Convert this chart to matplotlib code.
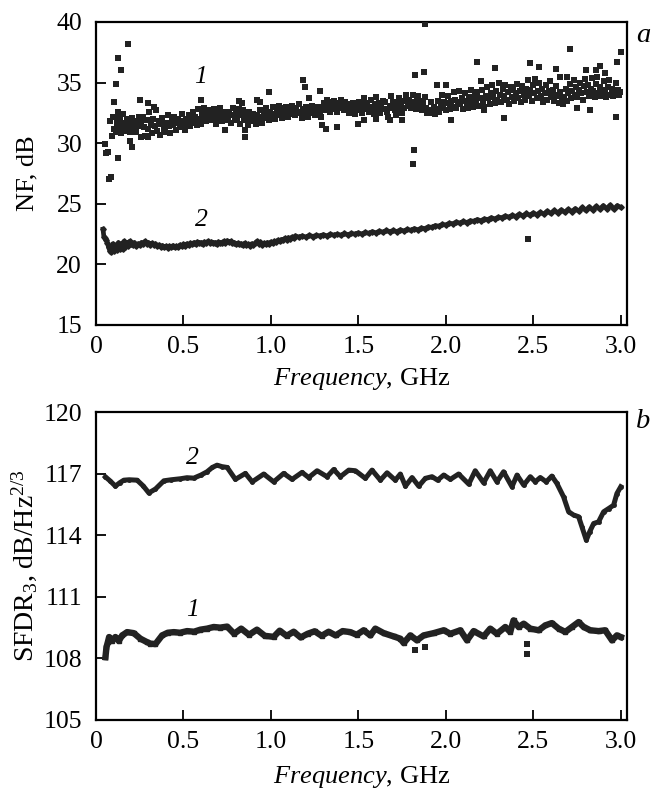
import matplotlib
matplotlib.use('Agg')
import matplotlib.pyplot as plt

plt.rcParams['font.family'] = ['Liberation Serif', 'DejaVu Serif']
plt.rcParams['mathtext.fontset'] = 'custom'
plt.rcParams['mathtext.rm'] = 'Liberation Serif'
plt.rcParams['mathtext.it'] = 'Liberation Serif:italic'

# (a) NF, curve 1 - scattered squares (frequency GHz, NF dB)
nf1_pts = [
    # outliers / left cluster
    (0.054, 29.9), (0.060, 29.2), (0.070, 29.25), (0.072, 27.05), (0.086, 27.2),
    (0.080, 31.8), (0.092, 30.6), (0.104, 33.4), (0.115, 34.9), (0.118, 32.1),
    (0.125, 28.75), (0.127, 37.05), (0.142, 36.04), (0.184, 38.16), (0.195, 30.2),
    (0.205, 29.7), (0.249, 33.56), (0.300, 33.3), (0.330, 32.96), (0.285, 30.6),
    (0.295, 30.5), (0.600, 33.6), (0.740, 31.1), (0.815, 33.5), (0.835, 33.3),
    (0.920, 33.6), (0.940, 33.4), (0.850, 31.1), (0.852, 30.5), (0.990, 34.2),
    (1.184, 35.2), (1.193, 34.66), (1.280, 34.33), (1.220, 33.7), (1.290, 31.5),
    (1.315, 31.2), (1.380, 31.36), (1.500, 31.6), (1.530, 31.9), (1.600, 32.0),
    (1.680, 31.9), (1.750, 31.9), (2.030, 31.95), (1.826, 35.6), (1.873, 35.9),
    (1.816, 29.4), (1.810, 28.3), (1.880, 39.8), (1.950, 34.8), (2.000, 34.8),
    (2.180, 36.7), (2.200, 35.1), (2.280, 36.2), (2.330, 32.1), (2.220, 32.7),
    (2.467, 22.07), (2.480, 36.6), (2.530, 36.3), (2.630, 36.1), (2.650, 35.5),
    (2.710, 37.8), (2.750, 32.9), (2.826, 32.7), (2.860, 36.0), (2.880, 36.4),
    (2.910, 35.8), (2.980, 36.7), (3.000, 37.5), (2.974, 32.2), (2.690, 35.5),
    (2.800, 36.0),
    # main band
    (0.100, 32.2), (0.105, 31.2), (0.112, 30.9), (0.118, 31.6), (0.125, 32.6),
    (0.130, 31.3), (0.138, 31.9), (0.142, 30.8), (0.150, 31.4), (0.155, 32.4),
    (0.162, 31.0), (0.168, 31.7), (0.175, 31.2), (0.180, 32.0), (0.188, 31.5),
    (0.195, 30.9), (0.200, 31.3), (0.205, 32.1), (0.212, 31.6), (0.220, 31.1),
    (0.228, 30.9), (0.235, 31.8), (0.240, 31.4), (0.248, 32.2), (0.255, 30.5),
    (0.260, 31.7), (0.268, 32.2), (0.275, 31.3), (0.282, 30.6), (0.290, 31.9),
    (0.298, 31.2), (0.305, 32.6), (0.312, 31.5), (0.320, 30.8), (0.328, 32.0),
    (0.335, 31.4), (0.342, 32.7), (0.350, 31.0), (0.358, 31.8), (0.365, 30.7),
    (0.372, 31.6), (0.380, 32.1), (0.388, 31.2), (0.395, 30.9), (0.402, 31.7),
    (0.410, 32.3), (0.418, 31.4), (0.425, 30.8), (0.432, 31.9), (0.440, 31.5),
    (0.448, 32.2), (0.455, 31.1), (0.462, 31.7), (0.470, 32.0), (0.478, 31.3),
    (0.485, 31.8), (0.492, 32.4), (0.500, 31.5), (0.508, 31.1), (0.515, 32.0),
    (0.522, 31.6), (0.530, 32.3), (0.538, 31.4), (0.545, 31.9), (0.552, 32.6),
    (0.560, 31.7), (0.568, 32.2), (0.575, 31.5), (0.582, 32.8), (0.590, 32.0),
    (0.598, 31.6), (0.605, 32.5), (0.612, 32.1), (0.620, 32.9), (0.628, 31.8),
    (0.635, 32.4), (0.642, 32.0), (0.650, 32.7), (0.658, 31.9), (0.665, 32.3),
    (0.672, 32.8), (0.680, 32.1), (0.688, 31.6), (0.695, 32.5), (0.702, 32.0),
    (0.710, 32.9), (0.718, 31.8), (0.725, 32.3), (0.732, 32.6), (0.740, 31.9),
    (0.748, 32.4), (0.755, 32.0), (0.762, 32.6), (0.770, 31.7), (0.778, 32.3),
    (0.785, 32.9), (0.792, 31.9), (0.800, 32.4), (0.808, 32.1), (0.815, 32.8),
    (0.822, 31.6), (0.830, 32.3), (0.838, 32.7), (0.845, 31.9), (0.852, 32.5),
    (0.860, 32.0), (0.868, 31.5), (0.875, 32.6), (0.882, 32.2), (0.890, 31.8),
    (0.898, 32.4), (0.905, 32.0), (0.912, 31.6), (0.920, 32.3), (0.928, 31.9),
    (0.935, 32.7), (0.942, 32.2), (0.950, 31.7), (0.958, 32.5), (0.965, 32.1),
    (0.972, 32.9), (0.980, 32.3), (0.988, 31.9), (0.995, 32.6), (1.002, 32.2),
    (1.010, 33.0), (1.018, 32.4), (1.025, 32.0), (1.032, 32.8), (1.040, 32.3),
    (1.048, 33.1), (1.055, 32.5), (1.062, 32.1), (1.070, 32.9), (1.078, 32.4),
    (1.085, 33.0), (1.092, 32.6), (1.100, 32.2), (1.108, 32.8), (1.115, 32.4),
    (1.122, 33.1), (1.130, 32.7), (1.138, 32.3), (1.145, 32.9), (1.152, 32.5),
    (1.160, 33.2), (1.168, 32.6), (1.175, 32.1), (1.182, 32.8), (1.190, 32.4),
    (1.198, 33.0), (1.205, 32.6), (1.212, 32.2), (1.220, 32.9), (1.228, 32.5),
    (1.235, 33.1), (1.242, 32.7), (1.250, 32.3), (1.258, 32.8), (1.265, 32.4),
    (1.272, 33.0), (1.280, 32.6), (1.288, 32.2), (1.295, 32.9), (1.302, 33.3),
    (1.310, 32.7), (1.318, 33.6), (1.325, 32.9), (1.332, 33.4), (1.340, 32.6),
    (1.348, 33.2), (1.355, 32.8), (1.362, 33.5), (1.370, 33.0), (1.378, 32.6),
    (1.385, 33.3), (1.392, 32.9), (1.400, 33.6), (1.408, 33.1), (1.415, 32.7),
    (1.422, 33.4), (1.430, 32.8), (1.438, 33.2), (1.445, 32.5), (1.452, 33.0),
    (1.460, 32.6), (1.468, 33.3), (1.475, 32.9), (1.482, 32.4), (1.490, 33.1),
    (1.498, 32.7), (1.505, 33.4), (1.512, 32.9), (1.520, 32.5), (1.528, 33.2),
    (1.535, 33.7), (1.542, 32.8), (1.550, 33.3), (1.558, 32.6), (1.565, 33.0),
    (1.572, 33.6), (1.580, 32.9), (1.588, 32.4), (1.595, 33.2), (1.602, 33.8),
    (1.610, 32.7), (1.618, 33.3), (1.625, 32.5), (1.632, 33.0), (1.640, 33.5),
    (1.648, 32.8), (1.655, 33.4), (1.662, 32.6), (1.670, 32.2), (1.678, 33.1),
    (1.685, 33.9), (1.692, 32.9), (1.700, 33.4), (1.708, 32.7), (1.715, 32.3),
    (1.722, 33.2), (1.730, 33.7), (1.738, 32.8), (1.745, 33.3), (1.752, 32.5),
    (1.760, 32.9), (1.768, 33.5), (1.775, 34.0), (1.782, 33.1), (1.790, 33.6),
    (1.798, 32.9), (1.805, 33.4), (1.812, 34.0), (1.820, 33.2), (1.828, 32.8),
    (1.835, 33.6), (1.842, 33.9), (1.850, 33.1), (1.858, 33.5), (1.865, 32.7),
    (1.872, 33.3), (1.880, 33.8), (1.888, 32.9), (1.895, 32.5), (1.902, 32.7),
    (1.910, 32.5), (1.918, 33.4), (1.925, 32.6), (1.932, 33.0), (1.940, 32.4),
    (1.948, 32.8), (1.955, 33.5), (1.962, 32.6), (1.970, 33.2), (1.978, 34.0),
    (1.985, 32.9), (1.992, 33.4), (2.000, 32.7), (2.008, 33.3), (2.015, 33.9),
    (2.022, 32.8), (2.030, 33.5), (2.038, 33.0), (2.045, 34.2), (2.052, 33.6),
    (2.060, 32.9), (2.068, 33.4), (2.075, 34.3), (2.082, 33.2), (2.090, 33.7),
    (2.098, 32.8), (2.105, 33.5), (2.112, 34.1), (2.120, 33.3), (2.128, 32.9),
    (2.135, 33.8), (2.142, 34.4), (2.150, 33.4), (2.158, 33.0), (2.165, 33.9),
    (2.172, 33.5), (2.180, 34.2), (2.188, 33.1), (2.195, 33.7), (2.205, 34.4),
    (2.212, 33.5), (2.220, 33.0), (2.228, 33.9), (2.235, 34.6), (2.242, 33.7),
    (2.250, 33.2), (2.258, 34.1), (2.265, 34.8), (2.272, 33.8), (2.280, 33.3),
    (2.288, 34.3), (2.295, 33.6), (2.302, 35.0), (2.310, 34.0), (2.318, 33.4),
    (2.325, 34.5), (2.332, 33.9), (2.340, 34.8), (2.348, 33.6), (2.355, 34.2),
    (2.362, 33.2), (2.370, 34.6), (2.378, 33.8), (2.385, 34.4), (2.392, 33.5),
    (2.400, 34.1), (2.408, 34.9), (2.415, 33.7), (2.422, 34.3), (2.430, 33.4),
    (2.438, 34.7), (2.445, 34.0), (2.452, 33.6), (2.460, 34.5), (2.468, 35.2),
    (2.475, 33.9), (2.482, 34.4), (2.490, 33.5), (2.498, 34.8), (2.505, 34.1),
    (2.512, 35.3), (2.520, 33.7), (2.528, 34.3), (2.535, 35.0), (2.542, 33.9),
    (2.550, 34.5), (2.558, 33.4), (2.565, 34.1), (2.572, 34.8), (2.580, 33.6),
    (2.588, 34.3), (2.595, 35.1), (2.602, 33.8), (2.610, 34.4), (2.618, 33.5),
    (2.625, 34.0), (2.632, 34.7), (2.640, 33.9), (2.648, 33.3), (2.655, 34.2),
    (2.662, 33.6), (2.670, 33.2), (2.678, 33.8), (2.685, 34.5), (2.692, 33.5),
    (2.700, 34.1), (2.708, 34.9), (2.715, 33.7), (2.722, 34.3), (2.730, 35.2),
    (2.738, 34.0), (2.745, 34.6), (2.752, 33.8), (2.760, 34.4), (2.768, 35.0),
    (2.775, 34.1), (2.782, 33.6), (2.790, 34.7), (2.798, 35.3), (2.805, 34.2),
    (2.812, 34.8), (2.820, 33.9), (2.828, 34.5), (2.835, 35.4), (2.842, 34.3),
    (2.850, 33.8), (2.858, 34.9), (2.865, 35.5), (2.872, 34.1), (2.880, 34.6),
    (2.888, 33.9), (2.895, 34.4), (2.902, 35.1), (2.910, 34.2), (2.918, 33.8),
    (2.925, 34.6), (2.932, 35.2), (2.940, 34.0), (2.948, 34.5), (2.955, 33.9),
    (2.962, 34.3), (2.970, 35.0), (2.978, 34.1), (2.985, 34.4), (2.992, 34.0),
    (2.998, 34.2),
]

# (a) NF, curve 2 - dense small diamonds
nf2_pts = [
    (0.040, 22.9), (0.045, 22.3), (0.050, 22.2), (0.058, 22.0), (0.065, 21.8),
    (0.072, 21.4), (0.080, 21.1), (0.088, 21.0), (0.096, 21.7), (0.104, 21.1),
    (0.112, 21.6), (0.120, 21.2), (0.128, 21.8), (0.136, 21.3), (0.144, 21.7),
    (0.152, 21.3), (0.160, 21.9), (0.168, 21.4), (0.176, 21.8), (0.184, 21.5),
    (0.192, 21.9), (0.200, 21.7), (0.210, 21.6), (0.220, 21.8), (0.230, 21.5),
    (0.240, 21.7), (0.250, 21.6), (0.260, 21.8), (0.270, 21.7), (0.280, 21.9),
    (0.290, 21.7), (0.300, 21.8), (0.310, 21.6), (0.320, 21.75), (0.330, 21.6),
    (0.340, 21.7), (0.350, 21.55), (0.360, 21.6), (0.370, 21.45), (0.380, 21.55),
    (0.390, 21.4), (0.400, 21.5), (0.410, 21.35), (0.420, 21.5), (0.430, 21.4),
    (0.440, 21.55), (0.450, 21.4), (0.460, 21.5), (0.470, 21.45), (0.480, 21.6),
    (0.490, 21.5), (0.500, 21.65), (0.510, 21.55), (0.520, 21.7), (0.530, 21.6),
    (0.540, 21.75), (0.550, 21.65), (0.560, 21.8), (0.570, 21.7), (0.580, 21.85),
    (0.590, 21.75), (0.600, 21.8), (0.610, 21.7), (0.620, 21.85), (0.630, 21.75),
    (0.640, 21.9), (0.650, 21.8), (0.660, 21.85), (0.670, 21.75), (0.680, 21.8),
    (0.690, 21.7), (0.700, 21.85), (0.710, 21.75), (0.720, 21.8), (0.730, 21.9),
    (0.740, 21.8), (0.750, 21.95), (0.760, 21.85), (0.770, 21.9), (0.780, 21.75),
    (0.790, 21.8), (0.800, 21.7), (0.810, 21.75), (0.820, 21.65), (0.830, 21.7),
    (0.840, 21.6), (0.850, 21.75), (0.860, 21.6), (0.870, 21.65), (0.880, 21.55),
    (0.890, 21.7), (0.900, 21.6), (0.910, 21.75), (0.920, 21.9), (0.930, 21.7),
    (0.940, 21.85), (0.950, 21.6), (0.960, 21.75), (0.970, 21.65), (0.980, 21.8),
    (0.990, 21.7), (1.000, 21.85), (1.010, 21.75), (1.020, 21.9), (1.030, 21.85),
    (1.040, 22.0), (1.050, 21.9), (1.060, 22.05), (1.070, 22.0), (1.080, 22.15),
    (1.090, 22.05), (1.100, 22.2), (1.110, 22.1), (1.120, 22.25), (1.130, 22.2),
    (1.140, 22.35), (1.160, 22.25), (1.180, 22.35), (1.200, 22.25), (1.220, 22.4),
    (1.240, 22.3), (1.260, 22.4), (1.280, 22.35), (1.300, 22.45), (1.320, 22.35),
    (1.340, 22.5), (1.360, 22.4), (1.380, 22.5), (1.400, 22.4), (1.420, 22.55),
    (1.440, 22.45), (1.460, 22.55), (1.480, 22.5), (1.500, 22.6), (1.520, 22.5),
    (1.540, 22.65), (1.560, 22.55), (1.580, 22.7), (1.600, 22.6), (1.620, 22.75),
    (1.640, 22.65), (1.660, 22.8), (1.680, 22.7), (1.700, 22.8), (1.720, 22.7),
    (1.740, 22.85), (1.760, 22.75), (1.780, 22.9), (1.800, 22.8), (1.820, 22.95),
    (1.840, 22.85), (1.860, 23.0), (1.880, 22.95), (1.900, 23.1), (1.920, 23.05),
    (1.940, 23.2), (1.960, 23.15), (1.980, 23.3), (2.000, 23.25), (2.020, 23.4),
    (2.040, 23.35), (2.060, 23.5), (2.080, 23.4), (2.100, 23.55), (2.120, 23.45),
    (2.140, 23.6), (2.160, 23.55), (2.180, 23.7), (2.200, 23.6), (2.220, 23.75),
    (2.240, 23.7), (2.260, 23.85), (2.280, 23.75), (2.300, 23.9), (2.320, 23.85),
    (2.340, 24.0), (2.360, 23.9), (2.380, 24.05), (2.400, 23.95), (2.420, 24.15),
    (2.440, 24.0), (2.460, 24.2), (2.480, 24.05), (2.500, 24.25), (2.520, 24.1),
    (2.540, 24.3), (2.560, 24.15), (2.580, 24.4), (2.600, 24.2), (2.620, 24.45),
    (2.640, 24.25), (2.660, 24.5), (2.680, 24.3), (2.700, 24.55), (2.720, 24.35),
    (2.740, 24.6), (2.760, 24.4), (2.780, 24.7), (2.800, 24.45), (2.820, 24.75),
    (2.840, 24.5), (2.860, 24.8), (2.880, 24.55), (2.900, 24.85), (2.920, 24.6),
    (2.940, 24.9), (2.960, 24.55), (2.980, 24.85), (3.000, 24.7),
]

# (b) SFDR3, curve 1 (lower, squares)
sfdr1_pts = [
    (0.054, 108.06), (0.060, 108.55), (0.068, 108.80), (0.075, 109.04), (0.090, 108.85),
    (0.111, 109.04), (0.130, 108.85), (0.150, 109.12), (0.178, 109.28), (0.216, 109.23),
    (0.254, 108.96), (0.290, 108.80), (0.311, 108.72), (0.340, 108.70), (0.378, 109.12),
    (0.410, 109.25), (0.445, 109.28), (0.480, 109.25), (0.521, 109.33), (0.560, 109.30),
    (0.597, 109.40), (0.635, 109.45), (0.673, 109.53), (0.710, 109.50), (0.750, 109.55),
    (0.790, 109.20), (0.830, 109.45), (0.875, 109.15), (0.920, 109.40), (0.965, 109.10),
    (1.016, 109.05), (1.050, 109.35), (1.090, 109.10), (1.130, 109.30), (1.170, 109.02),
    (1.210, 109.20), (1.250, 109.32), (1.290, 109.10), (1.330, 109.30), (1.370, 109.12),
    (1.410, 109.33), (1.454, 109.28), (1.490, 109.15), (1.530, 109.37), (1.569, 109.12),
    (1.597, 109.45), (1.645, 109.23), (1.702, 109.07), (1.740, 108.96), (1.759, 108.75),
    (1.797, 109.12), (1.835, 108.88), (1.873, 109.12), (1.930, 109.23), (1.988, 109.37),
    (2.026, 109.20), (2.083, 109.37), (2.121, 108.88), (2.159, 109.33), (2.216, 109.07),
    (2.254, 109.45), (2.292, 109.20), (2.340, 109.53), (2.368, 109.29), (2.387, 109.85),
    (2.416, 109.53), (2.445, 109.69), (2.483, 109.45), (2.531, 109.37), (2.569, 109.61),
    (2.606, 109.72), (2.645, 109.45), (2.683, 109.29), (2.721, 109.53), (2.759, 109.77),
    (2.788, 109.53), (2.826, 109.37), (2.873, 109.33), (2.911, 109.37), (2.950, 108.88),
    (2.978, 109.12), (3.000, 109.04),
]
# stray squares of curve 1
sfdr1_extra = [(1.826, 108.42), (1.883, 108.55), (2.464, 108.72), (2.464, 108.20)]

# (b) SFDR3, curve 2 (upper)
sfdr2_pts = [
    (0.054, 116.84), (0.080, 116.65), (0.111, 116.39), (0.135, 116.55), (0.159, 116.68),
    (0.190, 116.70), (0.235, 116.68), (0.270, 116.40), (0.302, 116.06), (0.340, 116.25),
    (0.388, 116.65), (0.430, 116.70), (0.483, 116.75), (0.520, 116.80), (0.559, 116.78),
    (0.600, 116.93), (0.635, 117.09), (0.665, 117.30), (0.692, 117.41), (0.720, 117.34),
    (0.750, 117.30), (0.797, 116.72), (0.854, 117.01), (0.893, 116.60), (0.959, 116.98),
    (1.016, 116.60), (1.073, 117.01), (1.121, 116.72), (1.178, 117.06), (1.216, 116.81),
    (1.264, 117.14), (1.321, 116.85), (1.359, 117.20), (1.397, 116.85), (1.445, 117.17),
    (1.483, 117.14), (1.540, 116.77), (1.578, 117.17), (1.626, 116.68), (1.664, 117.04),
    (1.711, 116.68), (1.740, 116.98), (1.769, 116.39), (1.807, 116.81), (1.845, 116.39),
    (1.883, 116.77), (1.921, 116.85), (1.953, 116.68), (1.988, 116.93), (2.026, 116.72),
    (2.073, 116.98), (2.131, 116.49), (2.168, 117.14), (2.216, 116.55), (2.254, 117.14),
    (2.292, 116.60), (2.330, 117.09), (2.378, 116.36), (2.407, 116.93), (2.445, 116.44),
    (2.483, 116.85), (2.511, 116.60), (2.540, 116.81), (2.574, 116.60), (2.606, 116.88),
    (2.635, 116.52), (2.673, 115.87), (2.702, 115.14), (2.731, 114.98), (2.759, 114.90),
    (2.778, 114.41), (2.803, 113.76), (2.822, 114.16), (2.845, 114.57), (2.873, 114.65),
    (2.902, 115.14), (2.931, 115.30), (2.959, 115.46), (2.978, 116.03), (3.000, 116.36),
]

freq_ticks = [0, 0.5, 1.0, 1.5, 2.0, 2.5, 3.0]
freq_ticklabels = ['0', '0.5', '1.0', '1.5', '2.0', '2.5', '3.0']
nf_ticks = [15, 20, 25, 30, 35, 40]
sfdr_ticks = [105, 108, 111, 114, 117, 120]

FS = 18.5
LFS = 19


def xy(pts):
    return [p[0] for p in pts], [p[1] for p in pts]


def style_axes(ax, yticks, ylim, xpad):
    ax.set_xlim(0, 3.035)
    ax.set_ylim(*ylim)
    ax.set_xticks(freq_ticks)
    ax.set_xticklabels(freq_ticklabels)
    ax.set_yticks(yticks)
    ax.tick_params(direction='in', length=7, width=1.3, labelsize=FS, pad=8,
                   top=False, right=False)
    ax.tick_params(axis='y', pad=10)
    for s in ax.spines.values():
        s.set_linewidth(1.6)
    ax.set_xlabel(r'$\mathit{Frequency}$, GHz', fontsize=LFS, labelpad=xpad)
    ax.yaxis.set_label_coords(-0.108, 0.5)


fig = plt.figure(figsize=(6.53, 7.94), dpi=100)
ax1 = fig.add_axes([0.147, 0.5907, 0.813, 0.3816])
ax2 = fig.add_axes([0.147, 0.0932, 0.813, 0.3879])

# panel a
x, y = xy(nf2_pts)
ax1.plot(x, y, color='#222222', lw=3.4, marker='D', ms=2.8, zorder=2)
x, y = xy(nf1_pts)
ax1.plot(x, y, ls='none', marker='s', ms=4.4, color='#222222', mew=0, zorder=3)
style_axes(ax1, nf_ticks, (15, 40), 6)
ax1.set_ylabel('NF, dB', fontsize=LFS)
ax1.text(0.6, 35.5, '1', fontsize=FS, style='italic', ha='center', va='center')
ax1.text(0.6, 23.7, '2', fontsize=FS, style='italic', ha='center', va='center')

# panel b
x, y = xy(sfdr2_pts)
ax2.plot(x, y, color='#222222', lw=3.6, marker='o', ms=2.5, zorder=2)
x, y = xy(sfdr1_pts)
ax2.plot(x, y, color='#222222', lw=4.6, marker='s', ms=3.5, zorder=2)
x, y = xy(sfdr1_extra)
ax2.plot(x, y, ls='none', marker='s', ms=4.2, color='#222222', mew=0)
style_axes(ax2, sfdr_ticks, (105, 120), 8)
ax2.set_ylabel(r'SFDR$_3$, dB/Hz$^{2/3}$', fontsize=LFS + 1)
ax2.text(0.55, 117.75, '2', fontsize=FS, style='italic', ha='center', va='center')
ax2.text(0.55, 110.35, '1', fontsize=FS, style='italic', ha='center', va='center')

fig.text(0.985, 0.955, 'a', fontsize=FS + 2, style='italic', ha='center', va='center')
fig.text(0.985, 0.469, 'b', fontsize=FS + 2, style='italic', ha='center', va='center')

fig.savefig('out.png', dpi=100)
